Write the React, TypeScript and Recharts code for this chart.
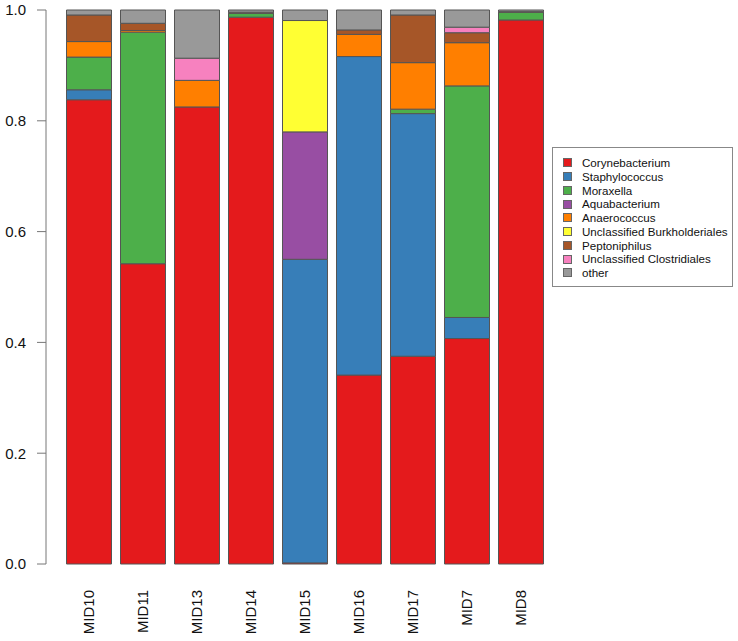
import { BarChart, Bar, XAxis, YAxis, Legend } from 'recharts';

const samples = ['MID10', 'MID11', 'MID13', 'MID14', 'MID15', 'MID16', 'MID17', 'MID7', 'MID8'];

const corynebacterium = [0.838, 0.542, 0.825, 0.987, 0.002, 0.341, 0.375, 0.407, 0.982];
const staphylococcus = [0.018, 0, 0, 0, 0.548, 0.575, 0.438, 0.038, 0];
const moraxella = [0.059, 0.418, 0, 0.007, 0, 0, 0.008, 0.418, 0.014];
const aquabacterium = [0, 0, 0, 0, 0.23, 0, 0, 0, 0];
const anaerococcus = [0.028, 0.003, 0.048, 0, 0, 0.04, 0.084, 0.078, 0];
const burkholderiales = [0, 0, 0, 0, 0.201, 0, 0, 0, 0];
const peptoniphilus = [0.048, 0.013, 0, 0.002, 0, 0.008, 0.086, 0.018, 0.001];
const clostridiales = [0, 0, 0.04, 0, 0, 0, 0, 0.01, 0];
const other = [0.009, 0.024, 0.087, 0.004, 0.019, 0.036, 0.009, 0.031, 0.003];

const yTicks = [0, 0.2, 0.4, 0.6, 0.8, 1];

// bottom-to-top stacking order, same as legend order
const series = [
  { key: 'Corynebacterium', values: corynebacterium, color: '#E41A1C' },
  { key: 'Staphylococcus', values: staphylococcus, color: '#377EB8' },
  { key: 'Moraxella', values: moraxella, color: '#4DAF4A' },
  { key: 'Aquabacterium', values: aquabacterium, color: '#984EA3' },
  { key: 'Anaerococcus', values: anaerococcus, color: '#FF7F00' },
  { key: 'Unclassified Burkholderiales', values: burkholderiales, color: '#FFFF33' },
  { key: 'Peptoniphilus', values: peptoniphilus, color: '#A65628' },
  { key: 'Unclassified Clostridiales', values: clostridiales, color: '#F781BF' },
  { key: 'other', values: other, color: '#999999' },
];

const data = samples.map((name, i) => {
  const row: Record<string, string | number> = { name };
  series.forEach((s) => {
    row[s.key] = s.values[i];
  });
  return row;
});

const FONT = '"Liberation Sans", Arial, Helvetica, sans-serif';

const SampleTick = (props: any) => {
  const { x, y, payload } = props;
  return (
    <text
      x={x}
      y={y}
      transform={`rotate(-90, ${x}, ${y})`}
      textAnchor="end"
      dy="0.36em"
      fontSize={15}
      fontFamily={FONT}
      fill="#111"
    >
      {payload.value}
    </text>
  );
};

const LegendBox = () => (
  <div
    style={{
      width: 181,
      height: 140,
      boxSizing: 'border-box',
      border: '1px solid #888',
      background: '#fff',
      paddingTop: 8,
      paddingLeft: 10,
      fontFamily: FONT,
      fontSize: 11.6,
      color: '#111',
      textAlign: 'left',
    }}
  >
    {series.map((s) => (
      <div
        key={s.key}
        style={{ display: 'flex', alignItems: 'center', height: 13.75, lineHeight: '13.75px' }}
      >
        <span
          style={{
            display: 'inline-block',
            width: 9,
            height: 9,
            flexShrink: 0,
            boxSizing: 'border-box',
            background: s.color,
            border: '1px solid #666',
            marginRight: 10,
          }}
        />
        <span style={{ whiteSpace: 'nowrap' }}>{s.key}</span>
      </div>
    ))}
  </div>
);

export default function App() {
  return (
    <div style={{ position: 'absolute', left: 0, top: 0, background: '#fff' }}>
      <BarChart
        width={738}
        height={641}
        data={data}
        margin={{ top: 10, right: 190.5, bottom: 0, left: 0 }}
        barSize={45}
      >
        <XAxis
          dataKey="name"
          axisLine={false}
          tickLine={false}
          tickSize={0}
          tickMargin={26}
          height={77}
          interval={0}
          padding={{ left: 15.5, right: 0 }}
          tick={<SampleTick />}
        />
        <YAxis
          type="number"
          domain={[0, 1]}
          ticks={yTicks}
          width={46}
          tickSize={9}
          tickMargin={11}
          tickFormatter={(v: number) => v.toFixed(1)}
          stroke="#777"
          tick={{ fill: '#111', fontSize: 15, fontFamily: FONT }}
          axisLine={{ stroke: '#777' }}
          tickLine={{ stroke: '#777' }}
        />
        <Legend
          layout="vertical"
          align="center"
          verticalAlign="middle"
          content={<LegendBox />}
          wrapperStyle={{ position: 'absolute', left: 552, top: 147, width: 181, height: 140 }}
        />
        {series.map((s) => (
          <Bar
            key={s.key}
            dataKey={s.key}
            stackId="taxa"
            fill={s.color}
            stroke="#555"
            strokeWidth={1}
            isAnimationActive={false}
          />
        ))}
      </BarChart>
    </div>
  );
}
